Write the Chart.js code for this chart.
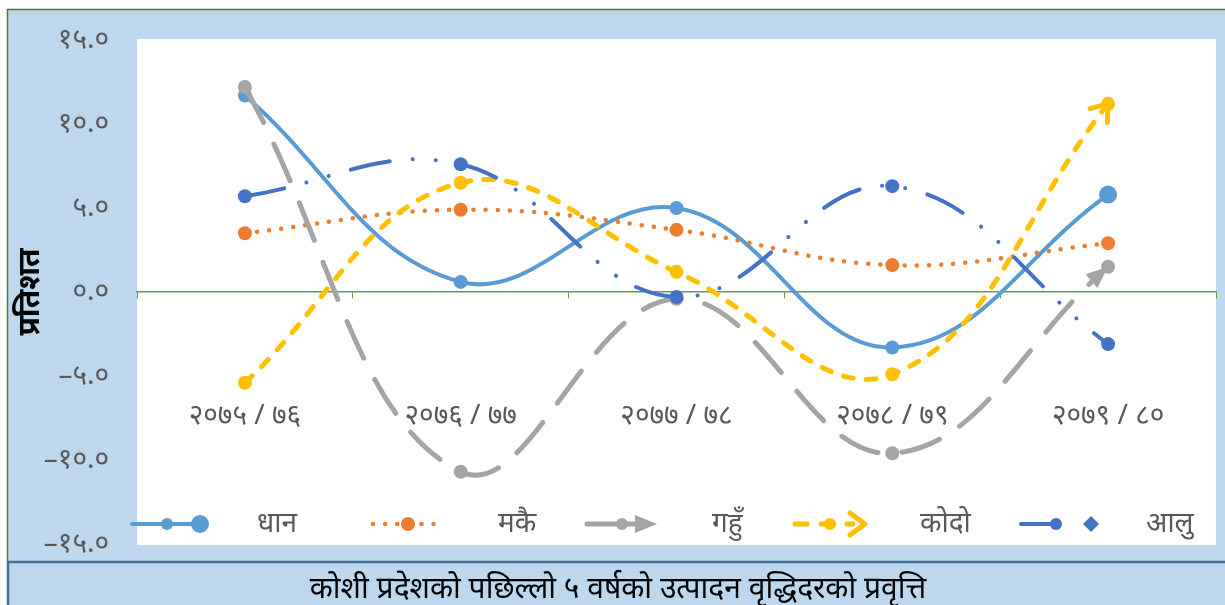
<!DOCTYPE html>
<html>
<head>
<meta charset="utf-8">
<script src="https://cdn.jsdelivr.net/npm/chart.js@4.4.0/dist/chart.umd.min.js"></script>
<style>
  html, body { margin: 0; padding: 0; background: #fff; }
</style>
</head>
<body>
<canvas id="chart" width="1225" height="605"></canvas>
<script>
// fiscal years and crops
let years = ["२०७५ / ७६", "२०७६ / ७७", "२०७७ / ७८", "२०७८ / ७९", "२०७९ / ८०"];
let crops = ["धान", "मकै", "गहुँ", "कोदो", "आलु"];

// growth rate (%) per crop
let dhan = [11.7, 0.6, 5.0, -3.3, 5.8];
let makai = [3.5, 4.9, 3.7, 1.6, 2.9];
let gahun = [12.2, -10.7, -0.4, -9.6, 1.5];
let kodo = [-5.4, 6.5, 1.2, -4.9, 11.2];
let alu = [5.7, 7.6, -0.3, 6.3, -3.1];

let yMin = -15, yMax = 15, yStep = 5;
let yTitle = "प्रतिशत";
let chartTitle = "कोशी प्रदेशको पछिल्लो ५ वर्षको उत्पादन वृद्धिदरको प्रवृत्ति";

const FONT = "'Noto Sans', 'DejaVu Sans', sans-serif";
const devDigits = "०१२३४५६७८९";
function toDev(s) {
    return String(s).replace(/[0-9]/g, d => devDigits[d]);
}

let colors = ["#5B9BD5", "#ED7D31", "#A5A5A5", "#FFC000", "#4472C4"];
let dashes = [[], [0.1, 12], [40, 24], [10, 13], [40, 23, 0.1, 23, 0.1, 23]];
let widths = [4, 4.5, 5, 5, 4];
let ends = ["oval", "none", "triangle", "open", "diamond"];
let series = [dhan, makai, gahun, kodo, alu];

// boxes behind the chart
const backdrop = {
    id: "backdrop",
    beforeDraw(chart) {
        const ctx = chart.ctx;
        const a = chart.chartArea;
        ctx.save();
        ctx.fillStyle = "#fff";
        ctx.fillRect(0, 0, chart.width, chart.height);
        ctx.fillStyle = "#BDD7EE";
        ctx.fillRect(7, 9, chart.width - 7, 552);
        ctx.strokeStyle = "#4E7A32";
        ctx.lineWidth = 1.5;
        ctx.beginPath();
        ctx.moveTo(7.5, 561);
        ctx.lineTo(7.5, 9.5);
        ctx.lineTo(chart.width, 9.5);
        ctx.stroke();
        // title box
        ctx.fillStyle = "#BDD7EE";
        ctx.fillRect(7, 562, chart.width - 7, chart.height - 562);
        ctx.strokeStyle = "#41719C";
        ctx.lineWidth = 2.5;
        ctx.beginPath();
        ctx.moveTo(8, chart.height);
        ctx.lineTo(8, 562);
        ctx.lineTo(chart.width, 562);
        ctx.stroke();
        // plot area
        ctx.fillStyle = "#fff";
        ctx.fillRect(a.left, a.top - 1, a.right - a.left, a.bottom - a.top + 2);
        ctx.restore();
    },
    afterDraw(chart) {
        const ctx = chart.ctx;
        ctx.save();
        ctx.fillStyle = "#000";
        ctx.font = "30px " + FONT;
        ctx.textAlign = "center";
        ctx.textBaseline = "middle";
        ctx.fillText(chartTitle, 618, 589);
        ctx.restore();
    }
};

function drawEnd(ctx, type, x, y, ang, color, w) {
    ctx.save();
    ctx.translate(x, y);
    ctx.rotate(ang);
    ctx.fillStyle = color;
    ctx.strokeStyle = color;
    ctx.setLineDash([]);
    if (type === "triangle") {
        ctx.beginPath();
        ctx.moveTo(0, 0);
        ctx.lineTo(-22, -9);
        ctx.lineTo(-22, 9);
        ctx.closePath();
        ctx.fill();
    } else if (type === "open") {
        ctx.lineWidth = w;
        ctx.lineCap = "round";
        ctx.lineJoin = "round";
        ctx.beginPath();
        ctx.moveTo(-15, -11);
        ctx.lineTo(0, 0);
        ctx.lineTo(-15, 11);
        ctx.stroke();
    } else if (type === "diamond") {
        ctx.rotate(-ang);
        ctx.beginPath();
        ctx.moveTo(0, -8);
        ctx.lineTo(8, 0);
        ctx.lineTo(0, 8);
        ctx.lineTo(-8, 0);
        ctx.closePath();
        ctx.fill();
    } else if (type === "oval") {
        ctx.beginPath();
        ctx.arc(0, 0, 9, 0, Math.PI * 2);
        ctx.fill();
    }
    ctx.restore();
}

// arrow heads at the line ends
const arrows = {
    id: "arrows",
    afterDatasetsDraw(chart) {
        const ctx = chart.ctx;
        chart.data.datasets.forEach((ds, i) => {
            const type = ends[i];
            if (type !== "triangle" && type !== "open") return;
            const pts = chart.getDatasetMeta(i).data;
            const p = pts[pts.length - 1];
            const ang = Math.atan2(p.y - p.cp1y, p.x - p.cp1x);
            drawEnd(ctx, type, p.x, p.y, ang, colors[i], widths[i]);
        });
    }
};

// legend inside the plot area
const legendSlots = [132, 373, 587, 795, 1021];
const bottomLegend = {
    id: "bottomLegend",
    afterDraw(chart) {
        const ctx = chart.ctx;
        const y = 524;
        chart.data.datasets.forEach((ds, i) => {
            const sx = legendSlots[i];
            const len = 70;
            const mid = sx + 35;
            let lineEnd = sx + len;
            if (ends[i] === "triangle" || ends[i] === "open") lineEnd -= 12;
            if (ends[i] === "diamond") lineEnd = mid;
            ctx.save();
            ctx.strokeStyle = colors[i];
            ctx.fillStyle = colors[i];
            ctx.lineWidth = widths[i];
            ctx.lineCap = "round";
            ctx.setLineDash(i === 1 ? [0.1, 12] : (i === 3 ? [12, 14] : []));
            ctx.beginPath();
            ctx.moveTo(sx, y);
            ctx.lineTo(lineEnd, y);
            ctx.stroke();
            ctx.setLineDash([]);
            ctx.beginPath();
            ctx.arc(mid, y, i === 1 ? 7 : 6, 0, Math.PI * 2);
            ctx.fill();
            ctx.restore();
            if (ends[i] !== "none") {
                let ex = sx + len;
                if (ends[i] === "oval") ex = sx + 68;
                if (ends[i] === "diamond") ex = sx + 70;
                drawEnd(ctx, ends[i], ex, y, 0, colors[i], widths[i]);
            }
            ctx.save();
            ctx.fillStyle = "#595959";
            ctx.font = "28px " + FONT;
            ctx.textBaseline = "middle";
            ctx.fillText(ds.label, sx + 125, y);
            ctx.restore();
        });
    }
};

new Chart("chart", {
    type: "line",
    data: {
        labels: years,
        datasets: series.map((vals, i) => ({
            label: crops[i],
            data: vals,
            borderColor: colors[i],
            backgroundColor: colors[i],
            borderWidth: widths[i],
            borderDash: dashes[i],
            borderCapStyle: "round",
            pointRadius: ctx => (i === 0 && ctx.dataIndex === vals.length - 1) ? 9 : 7,
            pointBorderWidth: 0,
            pointHoverRadius: 7,
            tension: 0.4,
            fill: false,
            order: 5 - i
        }))
    },
    options: {
        responsive: false,
        animation: false,
        layout: { padding: { left: 0, right: 7, top: 40, bottom: 61 } },
        plugins: {
            legend: { display: false },
            tooltip: { enabled: false }
        },
        scales: {
            x: {
                type: "category",
                position: { y: 0 },
                offset: true,
                afterFit(scale) {
                    scale.paddingLeft = 0;
                    scale.paddingRight = 0;
                },
                grid: {
                    offset: true,
                    drawOnChartArea: false,
                    drawTicks: true,
                    tickLength: 6,
                    color: "#6A9A48"
                },
                border: { display: true, color: "#6A9A48", width: 1.5 },
                ticks: {
                    padding: 101,
                    maxRotation: 0,
                    autoSkip: false,
                    color: "#595959",
                    font: { family: FONT, size: 28 }
                }
            },
            y: {
                min: yMin,
                max: yMax,
                afterFit(scale) {
                    scale.width = 137;
                    scale.paddingTop = 0;
                    scale.paddingBottom = 0;
                },
                grid: { display: false, drawTicks: false },
                border: { display: false },
                ticks: {
                    stepSize: yStep,
                    padding: 28,
                    color: "#595959",
                    font: { family: FONT, size: 28 },
                    callback: v => (v < 0 ? "–" : "") + toDev(Math.abs(v).toFixed(1))
                },
                title: {
                    display: true,
                    text: yTitle,
                    color: "#000",
                    font: { family: FONT, size: 30, weight: "bold" },
                    padding: { top: 12, bottom: 0 }
                }
            }
        }
    },
    plugins: [backdrop, arrows, bottomLegend]
});
</script>
</body>
</html>
